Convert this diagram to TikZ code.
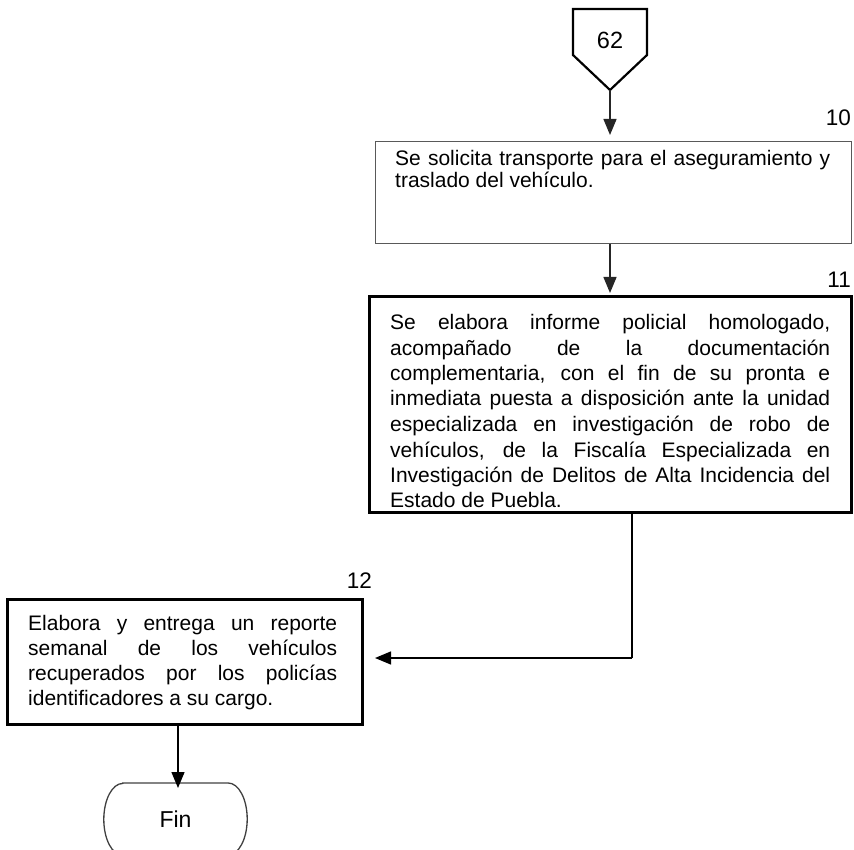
\documentclass[tikz,border=0pt]{standalone}
\usepackage{fontspec}
\setmainfont{Liberation Sans}
\usetikzlibrary{arrows.meta}

% one justified line of a fixed width
\newcommand{\jline}[2]{\makebox[#1][s]{#2}}

\tikzset{
  thinbox/.style={draw=black!65, line width=1.3pt, inner sep=0pt, anchor=north west},
  thickbox/.style={draw=black, line width=3pt, inner sep=0pt, anchor=north west},
  terminal/.style={inner sep=0pt, font=\fontsize{23pt}{25pt}\selectfont},
  terminalline/.style={draw=black!75, line width=1.3pt},
  boxtext/.style={inner sep=0pt, anchor=base west, align=left},
  stepnum/.style={inner sep=0pt, anchor=base east, font=\fontsize{22.5pt}{25pt}\selectfont},
  flow/.style={draw=black!85, line width=1.4pt, -{Triangle[length=16pt,width=13pt]}},
  plainline/.style={draw=black, line width=1.6pt}
}

\begin{document}
\begin{tikzpicture}[x=1pt, y=-1pt]
\useasboundingbox (0,0) rectangle (854,850);

% off-page connector 62
\draw[line width=2.2pt, line join=miter] (573,9) -- (647,9) -- (647,55) -- (610,90) -- (573,55) -- cycle;
\node[inner sep=0pt, anchor=base, font=\fontsize{23.5pt}{25pt}\selectfont] (c62) at (610,48.5) {62};
\coordinate (c62tip) at (610,90);

% step 10
\node[stepnum] (n10) at (851,126) {10};
\node[thinbox, minimum width=476pt, minimum height=102pt] (b10) at (375,141) {};
\node[boxtext] (t10) at (395,165.5) {\parbox[t]{440pt}{\fontsize{21pt}{22pt}\selectfont
  \jline{435pt}{Se solicita transporte para el aseguramiento y}\\
  traslado del vehículo.}};

% step 11
\node[stepnum] (n11) at (851,288) {11};
\node[thickbox, minimum width=482pt, minimum height=216pt] (b11) at (368,295) {};
\node[boxtext] (t11) at (390,329.5) {\parbox[t]{440pt}{\fontsize{21pt}{25.5pt}\selectfont
  \jline{440pt}{Se elabora informe policial homologado,}\\
  \jline{440pt}{acompañado de la documentación}\\
  \jline{440pt}{complementaria, con el fin de su pronta e}\\
  \jline{440pt}{inmediata puesta a disposición ante la unidad}\\
  \jline{440pt}{especializada en investigación de robo de}\\
  \jline{440pt}{vehículos, de la Fiscalía Especializada en}\\
  \jline{440pt}{Investigación de Delitos de Alta Incidencia del}\\
  Estado de Puebla.}};

% step 12
\node[stepnum] (n12) at (372,588) {12};
\node[thickbox, minimum width=355pt, minimum height=125pt] (b12) at (6,598) {};
\node[boxtext] (t12) at (28,630.5) {\parbox[t]{309pt}{\fontsize{21pt}{25pt}\selectfont
  \jline{309pt}{Elabora y entrega un reporte}\\
  \jline{309pt}{semanal de los vehículos}\\
  \jline{309pt}{recuperados por los policías}\\
  identificadores a su cargo.}};

% end terminal: flat top and bottom, elliptic sides
\node[terminal, minimum width=143pt, minimum height=72pt, anchor=north] (fin) at (175.5,783) {Fin};
\draw[terminalline] ([xshift=19pt]fin.north west) -- ([xshift=-19pt]fin.north east)
  arc[start angle=90, end angle=-90, x radius=19pt, y radius=36pt]
  -- ([xshift=19pt]fin.south west)
  arc[start angle=270, end angle=90, x radius=19pt, y radius=36pt] -- cycle;

% connectors
\draw[flow] (c62tip) -- ([yshift=6pt]b10.north -| c62tip);
\draw[flow] (b10.south -| c62tip) -- ([yshift=2pt]b11.north -| c62tip);
\coordinate (turn) at (632,658);
\draw[plainline] (b11.south -| turn) -- (turn);
\draw[flow, draw=black] (turn) -- ([xshift=11pt]b12.east |- turn);
\draw[flow, draw=black] (b12.south -| 178,0) -- ([yshift=-5pt]fin.north -| 178,0);
\end{tikzpicture}
\end{document}
